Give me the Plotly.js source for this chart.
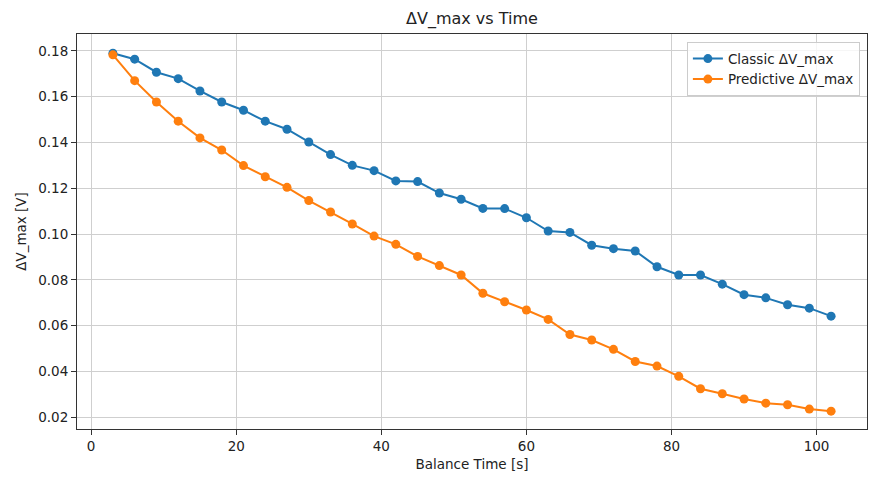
<!DOCTYPE html>
<html>
<head>
<meta charset="utf-8">
<script src="https://cdn.plot.ly/plotly-3.0.1.min.js"></script>
<style>
  html, body { margin: 0; padding: 0; background: #fff; }
  #chart { width: 881px; height: 485px; }
</style>
</head>
<body>
<div id="chart"></div>
<script>
// Balance time samples [s]
const balanceTime = [3, 6, 9, 12, 15, 18, 21, 24, 27, 30, 33, 36, 39, 42, 45, 48, 51,
    54, 57, 60, 63, 66, 69, 72, 75, 78, 81, 84, 87, 90, 93, 96, 99, 102];

// Max voltage spread [V], classic balancing
const classicDV = [0.1790, 0.1764, 0.1707, 0.1679, 0.1625, 0.1577, 0.1541, 0.1493, 0.1458,
    0.1402, 0.1347, 0.1300, 0.1277, 0.1232, 0.1229, 0.1179, 0.1152, 0.1112, 0.1111,
    0.1071, 0.1013, 0.1007, 0.0951, 0.0936, 0.0926, 0.0857, 0.0821, 0.0821, 0.0781,
    0.0735, 0.0721, 0.0691, 0.0676, 0.0641];

// Max voltage spread [V], predictive balancing
const predictiveDV = [0.1783, 0.1670, 0.1577, 0.1493, 0.1420, 0.1367, 0.1299, 0.1250, 0.1204,
    0.1146, 0.1096, 0.1044, 0.0991, 0.0955, 0.0902, 0.0862, 0.0821, 0.0741, 0.0704,
    0.0668, 0.0627, 0.0561, 0.0537, 0.0496, 0.0443, 0.0423, 0.0378, 0.0324, 0.0302,
    0.0279, 0.0261, 0.0254, 0.0235, 0.0226];

const font = { family: 'DejaVu Sans, sans-serif', size: 13.5, color: '#222' };

const traces = [
    {
        x: balanceTime,
        y: classicDV,
        mode: 'lines+markers',
        type: 'scatter',
        name: 'Classic ΔV_max',
        line: { color: '#1f77b4', width: 2 },
        marker: { color: '#1f77b4', size: 9 }
    },
    {
        x: balanceTime,
        y: predictiveDV,
        mode: 'lines+markers',
        type: 'scatter',
        name: 'Predictive ΔV_max',
        line: { color: '#ff7f0e', width: 2 },
        marker: { color: '#ff7f0e', size: 9 }
    }
];

const axisCommon = {
    showgrid: true,
    gridcolor: '#cfcfcf',
    gridwidth: 1,
    zeroline: false,
    showline: true,
    mirror: true,
    linecolor: '#333',
    linewidth: 1,
    ticks: 'outside',
    ticklen: 5,
    tickcolor: '#333',
    tickfont: font
};

const layout = {
    width: 881,
    height: 485,
    plot_bgcolor: '#ffffff',
    paper_bgcolor: '#ffffff',
    font: font,
    margin: { l: 77, r: 14, t: 34, b: 56 },
    title: {
        text: 'ΔV_max vs Time',
        font: { family: 'DejaVu Sans, sans-serif', size: 16, color: '#222' },
        x: 0.5357,
        xanchor: 'center',
        y: 0.963,
        yanchor: 'middle'
    },
    xaxis: {
        ...axisCommon,
        range: [-1.95, 106.95],
        dtick: 20,
        tick0: 0,
        title: { text: 'Balance Time [s]', font: font, standoff: 6 }
    },
    yaxis: {
        ...axisCommon,
        range: [0.0148, 0.1874],
        dtick: 0.02,
        tick0: 0,
        tickformat: '.2f',
        title: { text: 'ΔV_max [V]', font: font, standoff: 8 }
    },
    showlegend: true,
    legend: {
        x: 0.991,
        xanchor: 'right',
        y: 0.979,
        yanchor: 'top',
        bgcolor: 'rgba(255,255,255,0.8)',
        bordercolor: '#cccccc',
        borderwidth: 1,
        font: font
    }
};

Plotly.newPlot('chart', traces, layout, { displayModeBar: false, responsive: false });
</script>
</body>
</html>
